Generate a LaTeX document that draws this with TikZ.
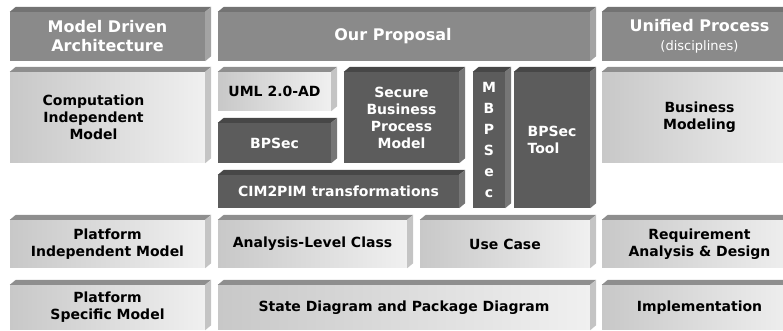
\documentclass[tikz,border=0pt]{standalone}
\usepackage{fontspec}
\setmainfont{DejaVu Sans}
\definecolor{headfront}{HTML}{8A8A8A}
\definecolor{headtop}{HTML}{737373}
\definecolor{headside}{HTML}{A3A3A3}
\definecolor{darkfront}{HTML}{5C5C5C}
\definecolor{darktop}{HTML}{474747}
\definecolor{darkside}{HTML}{767676}
\definecolor{lightleft}{HTML}{C8C8C8}
\definecolor{lightright}{HTML}{F0F0F0}
\definecolor{lighttop}{HTML}{8E8E8E}
\definecolor{lightside}{HTML}{C4C4C4}

\begin{document}
\begin{tikzpicture}[x=1pt,y=1pt,
    base node/.style={rectangle,inner sep=0pt,align=center,font=\bfseries\fontsize{14}{17}\selectfont},
    head node/.style={base node,fill=headfront,text=white,font=\bfseries\fontsize{16}{19}\selectfont},
    light node/.style={base node,left color=lightleft,right color=lightright,text=black},
    dark node/.style={base node,fill=darkfront,text=white},
    top of head/.style={fill=headtop},side of head/.style={fill=headside},
    top of light/.style={fill=lighttop},side of light/.style={fill=lightside},
    top of dark/.style={fill=darktop},side of dark/.style={fill=darkside}]

      \useasboundingbox (0,0) rectangle (783,331);

      \node[head node,minimum width=195pt,minimum height=49pt] (mda) at (107.5,294.5) {Model Driven\\Architecture};
      \node[head node,minimum width=372pt,minimum height=49pt] (prop) at (404,294.5) {};
      \node[head node,fill=none] (prop text) at ([xshift=-11pt]prop.center) {Our Proposal};
      \node[head node,minimum width=195pt,minimum height=49pt] (up) at (699.5,294.5) {Unified Process\\{\mdseries\fontsize{13}{15}\selectfont(disciplines)}};

      \node[light node,minimum width=195pt,minimum height=91pt] (cim) at (107.5,213.5) {};
      \node[base node] (cim text) at ([xshift=-14pt]cim.center) {Computation\\Independent\\Model};
      \node[light node,minimum width=113pt,minimum height=39pt] (uml) at (274.5,239.5) {UML 2.0-AD};
      \node[dark node,minimum width=113pt,minimum height=40pt] (bpsec) at (274.5,188) {BPSec};
      \node[dark node,minimum width=115pt,minimum height=91pt] (sbpm) at (401.5,213.5) {Secure\\Business\\Process\\Model};
      \node[dark node,minimum width=241pt,minimum height=33pt] (cim2pim) at (338.5,139.5) {CIM2PIM transformations};
      \node[dark node,minimum width=32pt,minimum height=136pt,font=\bfseries\fontsize{14}{21}\selectfont] (mbpsec) at (489,191) {M\\B\\P\\S\\e\\c};
      \node[dark node,minimum width=76pt,minimum height=136pt,align=left] (tool) at (552,191) {BPSec\\Tool};
      \node[light node,minimum width=195pt,minimum height=91pt] (bm) at (699.5,213.5) {Business\\Modeling};

      \node[light node,minimum width=195pt,minimum height=48pt] (pim) at (107.5,87) {Platform\\Independent Model};
      \node[light node,minimum width=189pt,minimum height=48pt] (alc) at (312.5,87) {Analysis-Level Class};
      \node[light node,minimum width=170pt,minimum height=48pt] (uc) at (505,87) {Use Case};
      \node[light node,minimum width=195pt,minimum height=48pt] (rad) at (699.5,87) {Requirement\\Analysis \& Design};

      \node[light node,minimum width=195pt,minimum height=45pt] (psm) at (107.5,23.5) {Platform\\Specific Model};
      \node[light node,minimum width=372pt,minimum height=45pt] (sd) at (404,23.5) {State Diagram and Package Diagram};
      \node[light node,minimum width=195pt,minimum height=45pt] (impl) at (699.5,23.5) {Implementation};

      \foreach \n/\k in {mda/head,prop/head,up/head,cim/light,uml/light,bpsec/dark,sbpm/dark,
                         cim2pim/dark,mbpsec/dark,tool/dark,bm/light,pim/light,alc/light,uc/light,
                         rad/light,psm/light,sd/light,impl/light}
      {
        \fill[top of \k] (\n.north west) -- ++(6,5) -- ([shift={(6,5)}]\n.north east) -- (\n.north east) -- cycle;
        \fill[side of \k] (\n.north east) -- ++(6,5) -- ([shift={(6,5)}]\n.south east) -- (\n.south east) -- cycle;
      }
    \end{tikzpicture}
\end{document}
